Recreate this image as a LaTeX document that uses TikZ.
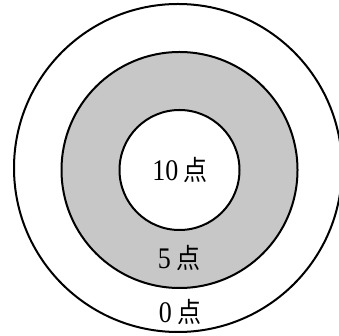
\documentclass[tikz,border=0pt]{standalone}
\usepackage{fontspec}
\setmainfont{Liberation Serif}
\newfontfamily\cjk{Noto Sans CJK JP}
\tikzset{
    ring/.style={circle, draw=black, line width=2pt, inner sep=0pt},
    score/.style={font=\fontsize{26}{28}\selectfont, inner sep=1pt, yscale=1.15},
}
\newcommand{\pts}[1]{#1\hspace{0.2em}{\cjk\fontsize{24}{28}\selectfont 点}}
\begin{document}
\begin{tikzpicture}[x=1pt, y=1pt]
        \useasboundingbox (0,0) rectangle (339,336);
        \node[ring, fill=white, minimum size=328pt] (outer) at (178,168) {};
        \node[ring, fill=black!22, minimum size=236pt] (middle) at (179.5,166) {};
        \node[ring, fill=white, minimum size=120pt] (inner) at (179.5,166) {};
        \node[score] (ten) at (180,166) {\pts{10}};
        \node[score] (five) at (179,78) {\pts{5}};
        \node[score] (zero) at (180,24) {\pts{0}};
    \end{tikzpicture}
\end{document}
